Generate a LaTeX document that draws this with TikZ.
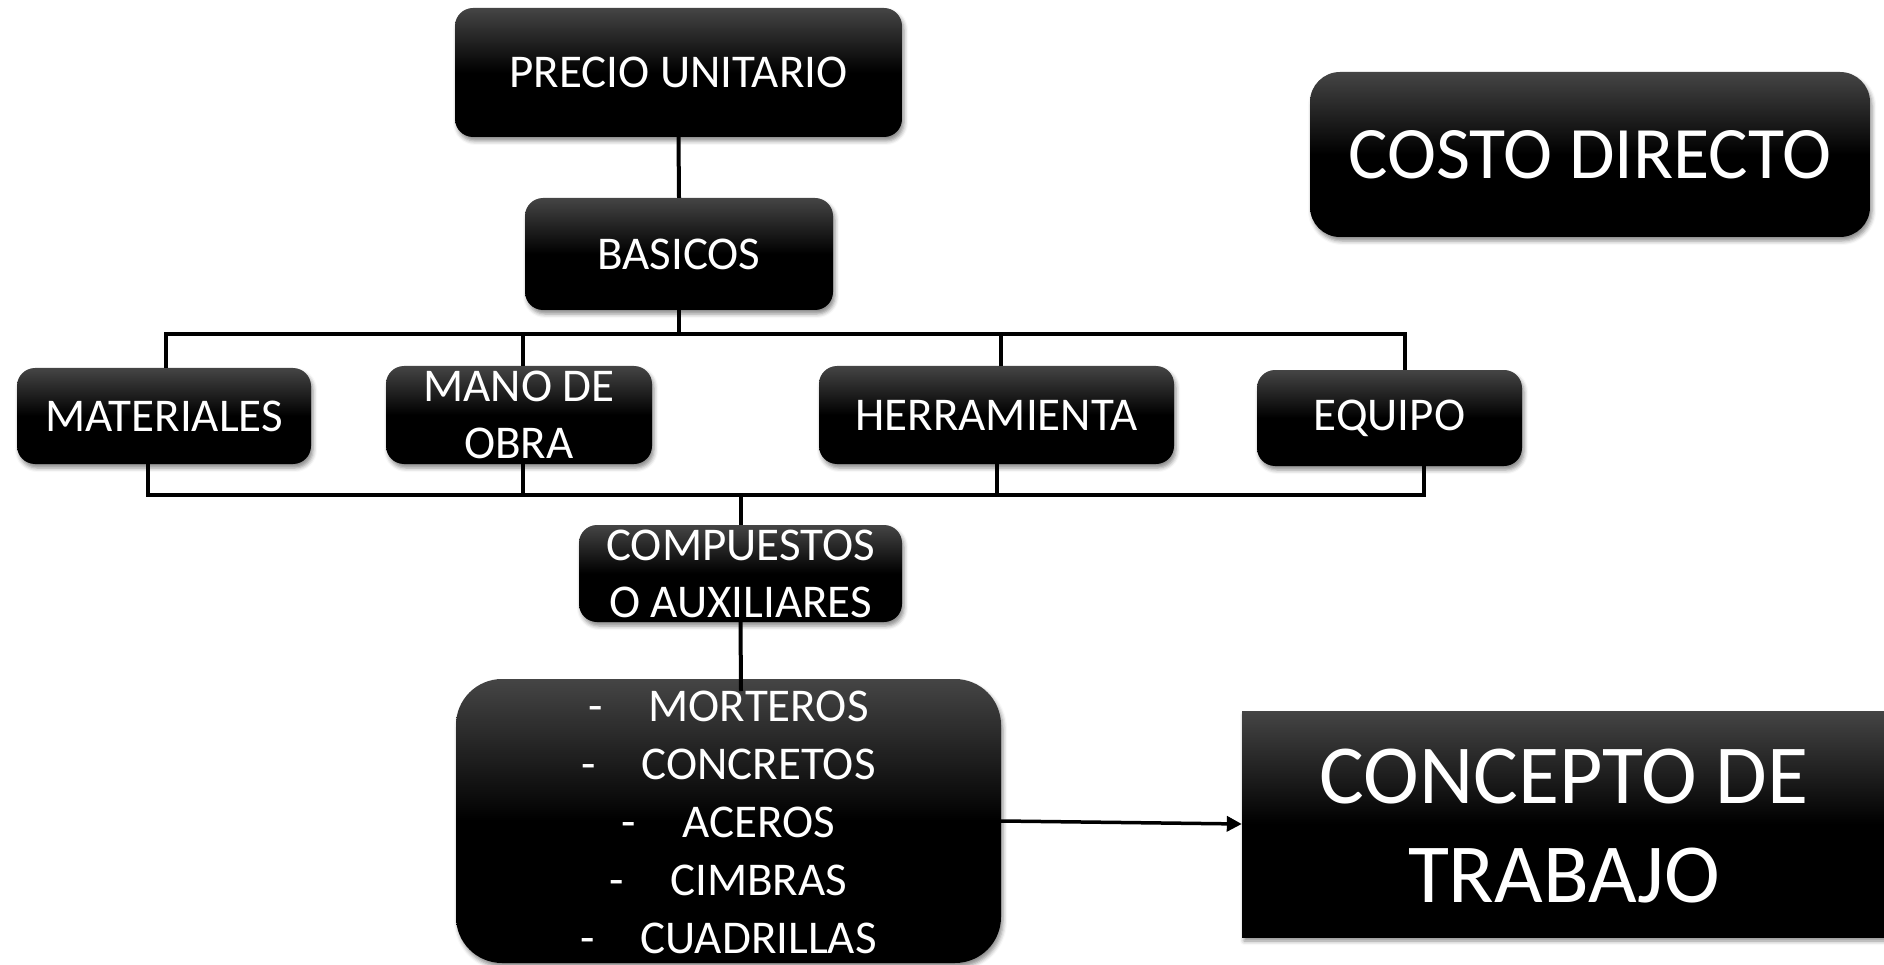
\documentclass[tikz,border=0pt]{standalone}
\usepackage{fontspec}
\setmainfont{Carlito}
\usetikzlibrary{shadows.blur,arrows.meta,calc}
\begin{document}
\begin{tikzpicture}[x=1pt,y=-1pt,
  box/.style={rounded corners=#1, top color=black!73, bottom color=black, middle color=black,
    draw=none, text=white, inner sep=0pt, align=center,
    font=\fontsize{47}{57}\selectfont,
    blur shadow={shadow xshift=2pt, shadow yshift=-4pt, shadow blur radius=4pt, shadow opacity=45}},
  box/.default=18pt,
  txt/.style={text=white, inner sep=0pt, align=center, font=\fontsize{47}{57}\selectfont},
  conn/.style={draw=black, line width=4pt},
  arr/.style={draw=black, line width=3.5pt, -{Triangle[length=15pt,width=15pt]}}]
\useasboundingbox (0,0) rectangle (1884,965);

% boxes
\node[box, minimum width=447pt, minimum height=129pt] (precio) at (678.5,72.5) {PRECIO UNITARIO};
\node[box, minimum width=308pt, minimum height=112pt] (basicos) at (679,254) {BASICOS};
\node[box, minimum width=294pt, minimum height=96pt] (materiales) at (164,416) {MATERIALES};
\node[box, minimum width=266pt, minimum height=98pt] (mano) at (519,415) {};
\node[txt] (manoT) at (mano.center) {MANO DE\\OBRA};
\node[box, minimum width=355pt, minimum height=98pt] (herramienta) at (996.5,415) {HERRAMIENTA};
\node[box, minimum width=265pt, minimum height=96pt] (equipo) at (1389.5,418) {EQUIPO};
\node[box, minimum width=323pt, minimum height=97pt] (compuestos) at (740.5,573.5) {};
\node[txt] (compuestosT) at (compuestos.center) {COMPUESTOS\\O AUXILIARES};
\node[box=46pt, minimum width=545pt, minimum height=284pt] (lista) at (728.5,821) {};
\node[txt, font=\fontsize{47}{58}\selectfont] (listaT) at (728.5,822) {-\hspace{46pt}MORTEROS\\-\hspace{46pt}CONCRETOS\\-\hspace{46pt}ACEROS\\-\hspace{46pt}CIMBRAS\\-\hspace{46pt}CUADRILLAS};
\node[box=30pt, minimum width=560pt, minimum height=165pt, font=\fontsize{74}{88}\selectfont] (costo) at (1590,154.5) {COSTO DIRECTO};
\node[box=0pt, minimum width=648pt, minimum height=226pt] (concepto) at (1566,824) {};
\node[txt, font=\fontsize{84}{99}\selectfont] (conceptoT) at (1564,826) {CONCEPTO DE\\TRABAJO};

% top tree
\coordinate (tL) at (166,334);
\coordinate (tR) at (1405,334);
\coordinate (tM) at (523,334);
\coordinate (tH) at (1001,334);
\draw[conn] (precio.south) -- (basicos.north);
\draw[conn] (basicos.south) -- (basicos.south |- tL);
\draw[conn] (tL |- materiales.north) -- (tL) -- (tR) -- (tR |- equipo.north);
\draw[conn] (tM) -- (tM |- mano.north);
\draw[conn] (tH) -- (tH |- herramienta.north);

% bottom collector
\coordinate (bL) at (148,495);
\coordinate (bR) at (1424,495);
\coordinate (bM) at (523,495);
\coordinate (bH) at (997,495);
\draw[conn] (bL |- materiales.south) -- (bL) -- (bR) -- (bR |- equipo.south);
\draw[conn] (bM |- mano.south) -- (bM);
\draw[conn] (bH |- herramienta.south) -- (bH);
\draw[conn] (compuestos.north |- bL) -- (compuestos.north);

% to list and to concept
\coordinate (lt) at (741,691);
\draw[conn] (compuestos.south) -- (lt);
\draw[arr] (lista.east) -- (concepto.west);
\end{tikzpicture}
\end{document}
